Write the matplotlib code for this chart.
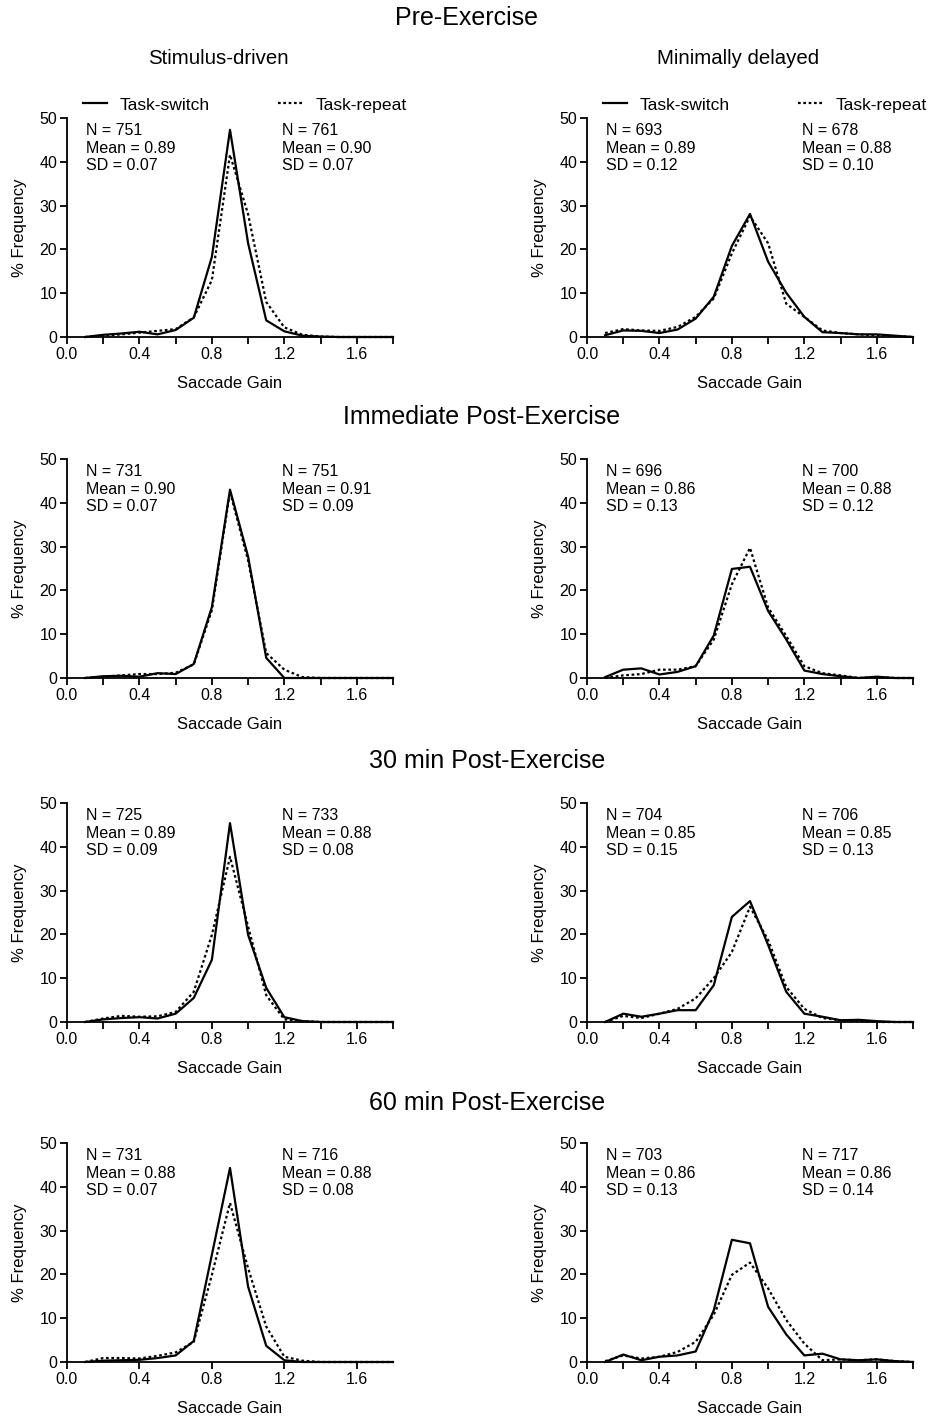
import numpy as np
import matplotlib.pyplot as plt

plt.rcParams['font.family'] = ['Liberation Sans', 'DejaVu Sans']

gain = [0.1, 0.2, 0.3, 0.4, 0.5, 0.6, 0.7, 0.8, 0.9, 1.0, 1.1, 1.2, 1.3, 1.4, 1.5, 1.6, 1.7, 1.8]

# Pre-Exercise
pre_sd_switch = [0.0, 0.5, 0.8, 1.2, 0.6, 1.6, 4.4, 18.3, 47.3, 21.4, 3.8, 1.3, 0.3, 0.1, 0.0, 0.0, 0.0, 0.0]
pre_sd_repeat = [0.0, 0.3, 0.6, 1.0, 1.4, 1.8, 4.5, 13.0, 41.6, 28.0, 8.0, 2.2, 0.5, 0.1, 0.0, 0.0, 0.0, 0.0]
pre_md_switch = [0.4, 1.5, 1.4, 0.9, 1.7, 4.2, 9.2, 20.8, 28.1, 17.2, 10.1, 4.6, 1.1, 0.9, 0.6, 0.6, 0.3, 0.0]
pre_md_repeat = [0.9, 1.8, 1.5, 1.4, 2.3, 4.6, 8.8, 19.1, 27.6, 21.4, 7.6, 4.6, 1.5, 0.9, 0.6, 0.4, 0.2, 0.0]

# Immediate Post-Exercise
imm_sd_switch = [0.0, 0.4, 0.5, 0.3, 1.1, 0.9, 3.2, 16.2, 43.0, 27.7, 4.6, 0.0, 0.0, 0.0, 0.0, 0.0, 0.0, 0.0]
imm_sd_repeat = [0.0, 0.3, 0.6, 0.9, 0.9, 1.2, 3.1, 15.5, 42.5, 26.8, 5.7, 1.9, 0.2, 0.0, 0.0, 0.0, 0.0, 0.0]
imm_md_switch = [0.2, 1.9, 2.2, 0.8, 1.4, 2.7, 9.7, 24.9, 25.4, 15.3, 8.8, 1.7, 0.9, 0.4, 0.0, 0.3, 0.0, 0.0]
imm_md_repeat = [0.0, 0.6, 0.9, 1.9, 1.9, 2.7, 8.8, 21.4, 29.7, 16.1, 9.6, 2.7, 1.1, 0.6, 0.0, 0.2, 0.0, 0.0]

# 30 min Post-Exercise
m30_sd_switch = [0.0, 0.6, 0.9, 1.1, 0.8, 1.9, 5.5, 14.2, 45.4, 19.9, 7.8, 1.1, 0.2, 0.0, 0.0, 0.0, 0.0, 0.0]
m30_sd_repeat = [0.0, 0.8, 1.4, 1.2, 1.3, 2.3, 6.9, 19.9, 37.7, 21.8, 6.1, 0.6, 0.2, 0.0, 0.0, 0.0, 0.0, 0.0]
m30_md_switch = [0.0, 1.9, 1.2, 1.9, 2.7, 2.7, 8.4, 24.0, 27.6, 17.6, 6.9, 1.9, 1.2, 0.4, 0.5, 0.2, 0.0, 0.0]
m30_md_repeat = [0.0, 1.4, 0.9, 1.9, 3.0, 5.4, 10.0, 16.0, 26.3, 18.7, 8.0, 3.0, 0.9, 0.4, 0.2, 0.0, 0.0, 0.0]

# 60 min Post-Exercise
m60_sd_switch = [0.0, 0.3, 0.4, 0.5, 0.9, 1.5, 4.8, 24.5, 44.3, 17.2, 3.7, 0.4, 0.0, 0.0, 0.0, 0.0, 0.0, 0.0]
m60_sd_repeat = [0.0, 0.9, 0.9, 0.8, 1.4, 2.2, 4.6, 19.9, 36.3, 21.4, 8.1, 1.2, 0.3, 0.0, 0.0, 0.0, 0.0, 0.0]
m60_md_switch = [0.0, 1.7, 0.4, 1.2, 1.5, 2.4, 11.8, 27.9, 27.1, 12.6, 6.3, 1.5, 1.9, 0.6, 0.4, 0.6, 0.2, 0.0]
m60_md_repeat = [0.2, 1.5, 0.8, 1.2, 2.3, 4.6, 10.8, 19.9, 22.7, 16.8, 9.6, 4.2, 0.4, 0.6, 0.4, 0.6, 0.2, 0.0]

row_titles = ["Pre-Exercise", "Immediate Post-Exercise", "30 min Post-Exercise", "60 min Post-Exercise"]
col_titles = ["Stimulus-driven", "Minimally delayed"]

switch_n = [[751, 693], [731, 696], [725, 704], [731, 703]]
switch_mean = [[0.89, 0.89], [0.90, 0.86], [0.89, 0.85], [0.88, 0.86]]
switch_sd = [[0.07, 0.12], [0.07, 0.13], [0.09, 0.15], [0.07, 0.13]]
repeat_n = [[761, 678], [751, 700], [733, 706], [716, 717]]
repeat_mean = [[0.90, 0.88], [0.91, 0.88], [0.88, 0.85], [0.88, 0.86]]
repeat_sd = [[0.07, 0.10], [0.09, 0.12], [0.08, 0.13], [0.08, 0.14]]

switch_data = [[pre_sd_switch, pre_md_switch], [imm_sd_switch, imm_md_switch],
               [m30_sd_switch, m30_md_switch], [m60_sd_switch, m60_md_switch]]
repeat_data = [[pre_sd_repeat, pre_md_repeat], [imm_sd_repeat, imm_md_repeat],
               [m30_sd_repeat, m30_md_repeat], [m60_sd_repeat, m60_md_repeat]]

W, H = 930, 1420
fig = plt.figure(figsize=(W / 100, H / 100), dpi=100)

lefts = [67, 587]
bottoms = [337, 678, 1022, 1362]
aw, ah = 326, 219
row_title_y = [18, 417, 761, 1103]
row_title_x = [466, 482, 487, 487]

for r in range(4):
    fig.text(row_title_x[r] / W, 1 - row_title_y[r] / H, row_titles[r], ha='center', va='center', fontsize=18)
    for c in range(2):
        ax = fig.add_axes([lefts[c] / W, 1 - bottoms[r] / H, aw / W, ah / H])
        ax.plot(gain, switch_data[r][c], color='black', lw=1.6, ls='-', label='Task-switch', clip_on=False)
        ax.plot(gain, repeat_data[r][c], color='black', lw=1.6, ls=(0, (1.2, 1.2)), label='Task-repeat', clip_on=False)
        ax.set_xlim(0, 1.8)
        ax.set_ylim(0, 50)
        ax.set_xticks([0.0, 0.4, 0.8, 1.2, 1.6])
        ax.set_xticklabels(['0.0', '0.4', '0.8', '1.2', '1.6'])
        if not (r == 3 and c == 0):
            ax.set_xticks([0.2, 0.6, 1.0, 1.4, 1.8], minor=True)
        ax.set_yticks([0, 10, 20, 30, 40, 50])
        for s in ['top', 'right']:
            ax.spines[s].set_visible(False)
        for s in ['left', 'bottom']:
            ax.spines[s].set_linewidth(1.3)
        ax.tick_params(which='both', direction='out', length=5, width=1.3, labelsize=11.5, pad=2)
        ax.set_xlabel('Saccade Gain', fontsize=12, labelpad=10)
        ax.set_ylabel('% Frequency', fontsize=12, labelpad=9)
        ax.text(0.058, 0.975,
                f"N = {switch_n[r][c]}\nMean = {switch_mean[r][c]:.2f}\nSD = {switch_sd[r][c]:.2f}",
                transform=ax.transAxes, ha='left', va='top', fontsize=11.5, linespacing=1.2)
        ax.text(0.66, 0.975,
                f"N = {repeat_n[r][c]}\nMean = {repeat_mean[r][c]:.2f}\nSD = {repeat_sd[r][c]:.2f}",
                transform=ax.transAxes, ha='left', va='top', fontsize=11.5, linespacing=1.2)
        if r == 0:
            fig.text((lefts[c] + 151) / W, 1 - 58 / H, col_titles[c], ha='center', va='center', fontsize=14.7)
            ax.legend(loc='lower left', bbox_to_anchor=(0.049, 1.025), ncol=2, frameon=False,
                      fontsize=12.6, handlelength=1.37, columnspacing=3.9, borderaxespad=0.0,
                      borderpad=0.0, handletextpad=0.75)

fig.savefig('out.png', dpi=100)
